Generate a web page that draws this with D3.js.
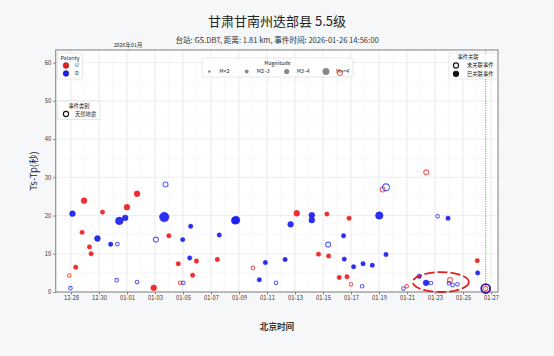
<!DOCTYPE html>
<html><head><meta charset="utf-8">
<script src="https://cdn.jsdelivr.net/npm/d3@7"></script>
<style>
body{margin:0;background:#f6f7f9;}
svg{display:block;font-family:"Noto Sans CJK SC","Noto Sans",sans-serif;}
</style>
</head><body><svg id="c" width="554" height="356"></svg>
<script>
const titleText = "甘肃甘南州迭部县 5.5级";
const subtitleText = "台站: GS.DBT, 距离: 1.81 km, 事件时间: 2026-01-26 14:56:00";
const monthLabel = "2026年01月";
const xLabel = "北京时间";
const yLabel = "Ts-Tp(秒)";
const xDomain = ["2025-12-26 21:46", "2026-01-27 12:00"];
const yDomain = [0, 63.3];
const xTickDates = ["2025-12-28","2025-12-30","2026-01-01","2026-01-03","2026-01-05","2026-01-07","2026-01-09","2026-01-11","2026-01-13","2026-01-15","2026-01-17","2026-01-19","2026-01-21","2026-01-23","2026-01-25","2026-01-27"];
const yTicks = [0,10,20,30,40,50,60];
const magLabels = ["M<2","M2~3","M3~4","M>=4"];
const polarityLabels = ["U","D"];
const categoryLabels = ["天然地震"];
const assocLabels = ["未关联事件","已关联事件"];

// events
const times = ["2025-12-27 23:00","2025-12-27 21:00","2025-12-28 02:30","2025-12-28 08:00","2025-12-28 19:00","2025-12-28 22:20","2025-12-29 07:40","2025-12-29 10:30","2025-12-29 21:20","2025-12-30 06:00","2025-12-30 20:00","2025-12-31 07:30","2025-12-31 06:15","2025-12-31 10:50","2025-12-31 21:00","2026-01-01 00:00","2026-01-01 17:15","2026-01-01 17:15","2026-01-02 21:50","2026-01-03 01:30","2026-01-03 15:50","2026-01-03 18:00","2026-01-03 23:45","2026-01-04 15:50","2026-01-04 19:10","2026-01-05 00:30","2026-01-04 23:30","2026-01-05 11:30","2026-01-05 13:10","2026-01-05 16:30","2026-01-05 23:00","2026-01-07 10:50","2026-01-07 14:10","2026-01-08 17:20","2026-01-08 19:00","2026-01-09 23:45","2026-01-10 10:50","2026-01-10 21:10","2026-01-11 15:35","2026-01-12 07:00","2026-01-12 16:30","2026-01-13 03:00","2026-01-14 04:50","2026-01-14 04:50","2026-01-14 16:20","2026-01-15 06:40","2026-01-15 08:50","2026-01-15 09:40","2026-01-16 11:15","2026-01-16 12:30","2026-01-16 20:40","2026-01-16 03:50","2026-01-16 17:00","2026-01-17 00:00","2026-01-17 04:30","2026-01-17 20:40","2026-01-17 19:00","2026-01-18 12:30","2026-01-19 00:30","2026-01-16 05:00","2026-01-19 06:15","2026-01-19 12:00","2026-01-19 12:00","2026-01-22 09:00","2026-01-23 04:30","2026-01-23 22:20","2026-01-26 00:30","2026-01-26 01:10","2026-01-20 17:45","2026-01-20 23:30","2026-01-21 21:00","2026-01-22 08:40","2026-01-22 17:00","2026-01-24 01:40","2026-01-24 00:00","2026-01-24 06:15","2026-01-24 14:25"];
const tsTp = [1.0,4.3,20.5,6.5,15.6,23.9,11.8,10.0,14.0,20.9,12.5,12.5,3.1,18.6,19.4,22.2,25.7,2.6,1.1,13.7,19.6,28.1,14.7,7.4,2.4,2.4,13.7,8.9,17.2,4.4,8.1,8.5,14.9,18.7,18.8,6.3,3.2,7.7,2.4,8.5,17.7,20.6,20.1,18.8,9.9,20.4,12.4,9.4,14.7,8.6,19.3,3.8,4.0,2.0,6.6,7.4,1.5,7.0,20.0,57.3,26.8,27.4,9.8,31.3,19.8,19.3,8.2,5.0,0.9,1.5,4.1,2.4,2.35,3.1,2.3,1.8,2.0];
const polarity = ["D","U","D","U","U","U","U","U","D","U","D","D","D","D","D","U","U","D","U","D","D","D","U","U","U","D","D","D","D","U","U","U","D","D","D","U","D","D","D","D","D","U","D","D","U","U","D","U","D","D","U","U","U","U","D","D","D","D","D","U","U","D","D","U","D","D","U","D","D","U","D","D","D","U","D","D","D"];
const magClass = [0,0,1,0,0,1,0,0,1,0,0,0,0,2,1,1,1,0,1,1,3,1,0,0,0,0,0,0,0,0,0,0,0,2,2,0,0,0,0,0,1,1,1,1,0,0,1,0,0,0,0,0,0,0,0,0,0,0,2,1,1,2,0,1,0,0,0,0,0,0,0,1,0,1,0,0,0];
const associated = [0,0,1,1,1,1,1,1,1,1,1,0,0,1,1,1,1,0,1,0,1,0,1,1,0,0,1,1,1,1,1,1,1,1,1,0,1,1,0,1,1,1,1,1,1,1,0,1,1,1,1,1,1,0,1,1,0,1,1,0,0,0,1,0,0,1,1,1,0,0,1,1,0,0,0,0,0];
const eventTime = "2026-01-26 14:56";
const eventTsTp = 0.9;
const highlight = {center: "2026-01-23 10:00", value: 2.6, halfDays: 2.0, halfValue: 2.6};

const parse = d3.timeParse("%Y-%m-%d %H:%M");
const parseDay = d3.timeParse("%Y-%m-%d");
const W = 554, H = 356;
const M = {left: 55.7, right: 498, top: 50, bottom: 292};
const x = d3.scaleTime().domain(xDomain.map(parse)).range([M.left, M.right]);
const y = d3.scaleLinear().domain(yDomain).range([M.bottom, M.top]);
const colors = {U: "#f01c1c", D: "#1a1ef0"};
const magR = [2.2, 2.9, 3.8, 4.8];
const legR = [1.3, 1.9, 2.6, 3.4];

const svg = d3.select("#c");
svg.append("rect").attr("width", W).attr("height", H).attr("fill", "#f6f7f9");
svg.append("rect").attr("x", M.left).attr("y", M.top).attr("width", M.right - M.left).attr("height", M.bottom - M.top).attr("fill", "#fff");

// minor grid
const g = svg.append("g");
const days = d3.timeDay.range(x.domain()[0], x.domain()[1]);
g.selectAll(".mx").data(days).join("line")
  .attr("x1", d => x(d)).attr("x2", d => x(d)).attr("y1", M.top).attr("y2", M.bottom)
  .attr("stroke", "#f3f3f3").attr("stroke-width", 0.6);
g.selectAll(".my").data(d3.range(5, 65, 10)).join("line")
  .attr("x1", M.left).attr("x2", M.right).attr("y1", d => y(d)).attr("y2", d => y(d))
  .attr("stroke", "#f3f3f3").attr("stroke-width", 0.6);
// major grid
g.selectAll(".gx").data(xTickDates.map(parseDay)).join("line")
  .attr("x1", d => x(d)).attr("x2", d => x(d)).attr("y1", M.top).attr("y2", M.bottom)
  .attr("stroke", "#e6e6e6").attr("stroke-width", 0.7);
g.selectAll(".gy").data(yTicks).join("line")
  .attr("x1", M.left).attr("x2", M.right).attr("y1", d => y(d)).attr("y2", d => y(d))
  .attr("stroke", "#e6e6e6").attr("stroke-width", 0.7);

// axes
const xAxis = d3.axisBottom(x).tickValues(xTickDates.map(parseDay)).tickFormat(d3.timeFormat("%m-%d")).tickSize(2.5).tickPadding(1.5);
const yAxis = d3.axisLeft(y).tickValues(yTicks).tickSize(2.5).tickPadding(2);
const ax = svg.append("g").attr("transform", `translate(0,${M.bottom})`).call(xAxis);
const ay = svg.append("g").attr("transform", `translate(${M.left},0)`).call(yAxis);
[ax, ay].forEach(a => {
  a.select(".domain").remove();
  a.selectAll("line").attr("stroke", "#555").attr("stroke-width", 0.7);
  a.selectAll("text").attr("font-size", 5.8).attr("fill", "#333").attr("font-family", '"Noto Sans CJK SC",sans-serif');
});

// frame
svg.append("rect").attr("x", M.left).attr("y", M.top).attr("width", M.right - M.left).attr("height", M.bottom - M.top)
  .attr("fill", "none").attr("stroke", "#8a8a8a").attr("stroke-width", 1.1);

// event line
svg.append("line").attr("x1", x(parse(eventTime))).attr("x2", x(parse(eventTime)))
  .attr("y1", M.top).attr("y2", M.bottom).attr("stroke", "#22a822").attr("stroke-width", 0.8).attr("stroke-dasharray", "1.2,1.2");

// texts
svg.append("text").attr("x", 277).attr("y", 26).attr("text-anchor", "middle").attr("font-size", 13).attr("fill", "#222").text(titleText);
svg.append("text").attr("x", 277).attr("y", 42.5).attr("text-anchor", "middle").attr("font-size", 7.6).attr("fill", "#333").text(subtitleText);
svg.append("text").attr("x", x(parseDay("2026-01-01")) + 1).attr("y", 47).attr("text-anchor", "middle").attr("font-size", 5.4).attr("fill", "#333").text(monthLabel);
svg.append("text").attr("x", 277).attr("y", 330).attr("text-anchor", "middle").attr("font-size", 8.6).attr("font-weight", "bold").attr("fill", "#333").text(xLabel);
svg.append("text").attr("transform", `translate(37,${(M.top + M.bottom) / 2}) rotate(-90)`).attr("text-anchor", "middle").attr("font-size", 9.5).attr("fill", "#222").text(yLabel);

// legends
function box(x0, y0, w, h) {
  svg.append("rect").attr("x", x0).attr("y", y0).attr("width", w).attr("height", h).attr("rx", 1.5)
    .attr("fill", "#fff").attr("fill-opacity", 0.8).attr("stroke", "#d8d8d8").attr("stroke-width", 0.6);
}
const lf = 5.3;
// Polarity
box(57.5, 53, 25, 26);
svg.append("text").attr("x", 70).attr("y", 59.5).attr("text-anchor", "middle").attr("font-size", lf).attr("fill", "#222").text("Polarity");
polarityLabels.forEach((p, i) => {
  svg.append("circle").attr("cx", 66).attr("cy", 65.5 + i * 8).attr("r", 2.9).attr("fill", colors[p]).attr("stroke", "#333").attr("stroke-width", 0.4);
  svg.append("text").attr("x", 75).attr("y", 67.3 + i * 8).attr("font-size", lf).attr("fill", "#222").text(p);
});
// 事件类别
box(57.5, 101, 42.5, 18.5);
svg.append("text").attr("x", 79).attr("y", 107.5).attr("text-anchor", "middle").attr("font-size", lf).attr("fill", "#222").text("事件类别");
categoryLabels.forEach((c, i) => {
  svg.append("circle").attr("cx", 66).attr("cy", 114).attr("r", 2.6).attr("fill", "none").attr("stroke", "#111").attr("stroke-width", 1.1);
  svg.append("text").attr("x", 75).attr("y", 116).attr("font-size", lf).attr("fill", "#222").text(c);
});
// Magnitude
box(202, 58, 151, 19);
svg.append("text").attr("x", 277.5).attr("y", 64.5).attr("text-anchor", "middle").attr("font-size", lf).attr("fill", "#222").text("Magnitude");
const magX = [209.3, 246.7, 286.7, 326];
magLabels.forEach((m, i) => {
  svg.append("circle").attr("cx", magX[i]).attr("cy", 71.5).attr("r", legR[i]).attr("fill", "#888");
  svg.append("text").attr("x", magX[i] + 10).attr("y", 73.3).attr("font-size", lf).attr("fill", "#222").text(m);
});
// 事件关联
box(449, 53, 48, 26);
svg.append("text").attr("x", 468).attr("y", 59).attr("text-anchor", "middle").attr("font-size", lf).attr("fill", "#222").text("事件关联");
assocLabels.forEach((a, i) => {
  svg.append("circle").attr("cx", 456).attr("cy", 65.5 + i * 8.3).attr("r", 2.6)
    .attr("fill", i ? "#111" : "none").attr("stroke", "#111").attr("stroke-width", 1.1);
  svg.append("text").attr("x", 467).attr("y", 67.4 + i * 8.3).attr("font-size", lf).attr("fill", "#222").text(a);
});

// points
const data = times.map((t, i) => ({t: parse(t), v: tsTp[i], p: polarity[i], m: magClass[i], a: associated[i]}));
const pts = svg.append("g");
pts.selectAll("circle").data(data).join("circle")
  .attr("cx", d => x(d.t)).attr("cy", d => y(d.v))
  .attr("r", d => d.a ? magR[d.m] : magR[d.m] - 0.4)
  .attr("fill", d => d.a ? colors[d.p] : "none")
  .attr("fill-opacity", 0.92)
  .attr("stroke", d => colors[d.p])
  .attr("stroke-opacity", d => d.a ? 0.9 : 0.7)
  .attr("stroke-width", d => d.a ? 0.5 : 1.1);

// current event marker
const ex = x(parse(eventTime)), ey = y(eventTsTp);
svg.append("circle").attr("cx", ex).attr("cy", ey).attr("r", 4.4).attr("fill", "none").attr("stroke", "#3c1a9c").attr("stroke-width", 1.9);
svg.append("circle").attr("cx", ex).attr("cy", ey).attr("r", 2.2).attr("fill", "none").attr("stroke", "#d93a3a").attr("stroke-width", 0.9);

// highlight ellipse
const hc = parse(highlight.center);
const hcx = x(hc), hcy = y(highlight.value);
const hrx = x(d3.timeMinute.offset(hc, highlight.halfDays * 1440)) - hcx;
const hry = y(0) - y(highlight.halfValue);
svg.append("ellipse").attr("cx", hcx).attr("cy", hcy).attr("rx", hrx).attr("ry", hry)
  .attr("fill", "none").attr("stroke", "#e02020").attr("stroke-width", 1.8).attr("stroke-dasharray", "10,3");
</script>
</body></html>
